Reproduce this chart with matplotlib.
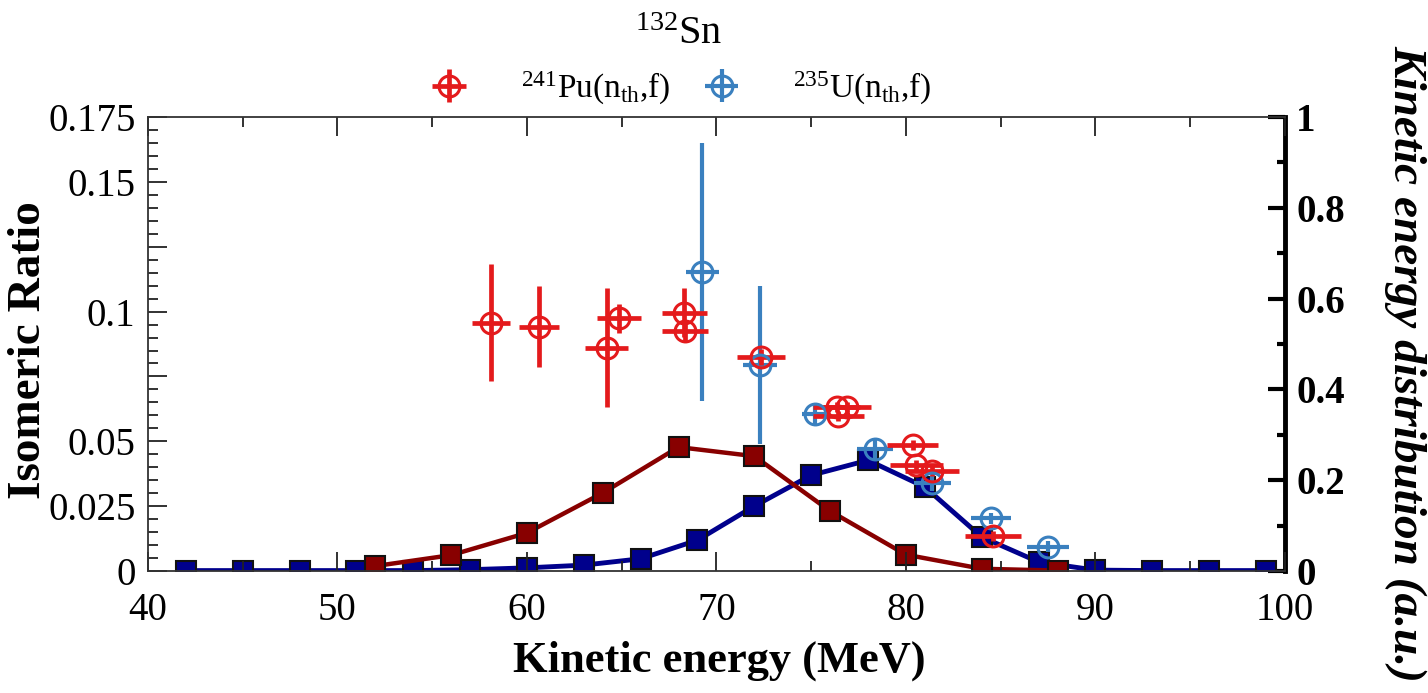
import matplotlib
matplotlib.use('Agg')
import matplotlib.pyplot as plt
from matplotlib.ticker import FixedLocator, FixedFormatter, MultipleLocator

plt.rcParams['font.family'] = ['Liberation Serif', 'DejaVu Serif']
plt.rcParams['mathtext.fontset'] = 'custom'
plt.rcParams['mathtext.rm'] = 'Liberation Serif'
plt.rcParams['mathtext.it'] = 'Liberation Serif:italic'
plt.rcParams['mathtext.bf'] = 'Liberation Serif:bold'

# ---- kinetic energy distributions (right axis) ----
u_dist_x = [42, 45, 48, 51, 54, 57, 60, 63, 66, 69, 72, 75, 78, 81, 84, 87, 90, 93, 96, 99]
u_dist_y = [0.001, 0.001, 0.001, 0.001, 0.001, 0.003, 0.007, 0.013, 0.027, 0.068,
            0.143, 0.211, 0.244, 0.185, 0.075, 0.020, 0.002, 0.001, 0.001, 0.001]
pu_dist_x = [52, 56, 60, 64, 68, 72, 76, 80, 84, 88]
pu_dist_y = [0.011, 0.035, 0.084, 0.172, 0.273, 0.253, 0.132, 0.036, 0.005, 0.001]

# ---- isomeric ratios (left axis) ----
pu_x = [58.1, 60.65, 64.2, 64.85, 68.3, 68.35, 72.35, 76.34, 76.91, 76.43, 80.35, 80.55, 81.37, 84.6]
pu_y = [0.0957, 0.0942, 0.0861, 0.0974, 0.0996, 0.0926, 0.0824, 0.0633, 0.0633, 0.0598,
        0.0486, 0.0409, 0.0387, 0.0136]
pu_xerr = [1.0, 1.05, 1.15, 1.15, 1.19, 1.2, 1.26, 1.23, 1.27, 1.35, 1.35, 1.4, 1.43, 1.48]
pu_yerr = [0.0226, 0.0157, 0.023, 0.0057, 0.0094, 0.0042, 0.003, 0.002, 0.002, 0.002,
           0.002, 0.002, 0.002, 0.002]

u_x = [69.25, 72.3, 75.2, 78.37, 81.4, 84.49, 87.5]
u_y = [0.1154, 0.0794, 0.0604, 0.0469, 0.0338, 0.0203, 0.0094]
u_xerr = [0.87, 0.88, 0.7, 0.97, 1.0, 1.03, 1.1]
u_yerr = [0.0497, 0.0305, 0.004, 0.004, 0.003, 0.002, 0.002]

left_ticks = [0, 0.025, 0.05, 0.075, 0.1, 0.125, 0.15, 0.175]
left_labels = ['0', '0.025', '0.05', '', '0.1', '', '0.15', '0.175']
right_ticks = [0, 0.2, 0.4, 0.6, 0.8, 1.0]
right_labels = ['0', '0.2', '0.4', '0.6', '0.8', '1']

RED = '#e41a1c'
BLUE = '#3a80bf'
DRED = '#880000'
DBLUE = '#00008c'

fig = plt.figure(figsize=(14.28, 6.93), dpi=100)
ax = fig.add_axes([0.1036, 0.176, 0.7962, 0.6551])
ax2 = ax.twinx()
ax.set_zorder(ax2.get_zorder() + 1)
ax.patch.set_visible(False)

# distributions on the right axis
ax2.plot(u_dist_x, u_dist_y, '-s', color=DBLUE, lw=3.5, ms=15, mfc=DBLUE,
         mec='#111111', mew=1.5)
ax2.plot(pu_dist_x, pu_dist_y, '-s', color=DRED, lw=3.2, ms=15, mfc=DRED,
         mec='#111111', mew=1.5)
ax2.set_ylim(0, 1)
ax2.yaxis.set_major_locator(FixedLocator(right_ticks))
ax2.yaxis.set_major_formatter(FixedFormatter(right_labels))
ax2.yaxis.set_minor_locator(MultipleLocator(0.1))
ax2.tick_params(axis='y', which='both', direction='in', right=True, left=False,
                width=3, labelsize=28, pad=8)
ax2.tick_params(axis='y', which='major', length=12)
ax2.tick_params(axis='y', which='minor', length=6)
for lab in ax2.get_yticklabels():
    lab.set_fontweight('bold')
for s in ['left', 'top', 'bottom']:
    ax2.spines[s].set_visible(False)
ax2.spines['right'].set_linewidth(3.5)

# isomeric ratios on the left axis
hu = ax.errorbar(u_x, u_y, xerr=u_xerr, yerr=u_yerr, fmt='o', mfc='none', mec=BLUE,
                 mew=2.2, ms=15, ecolor=BLUE, elinewidth=3.0, capsize=0,
                 label=r'$^{235}$U(n$_{\mathrm{th}}$,f)')
hp = ax.errorbar(pu_x, pu_y, xerr=pu_xerr, yerr=pu_yerr, fmt='o', mfc='none', mec=RED,
                 mew=2.2, ms=15, ecolor=RED, elinewidth=3.4, capsize=0,
                 label=r'$^{241}$Pu(n$_{\mathrm{th}}$,f)')

ax.set_xlim(40, 100)
ax.set_ylim(0, 0.175)
ax.xaxis.set_major_locator(MultipleLocator(10))
ax.xaxis.set_minor_locator(MultipleLocator(5))
ax.yaxis.set_major_locator(FixedLocator(left_ticks))
ax.yaxis.set_major_formatter(FixedFormatter(left_labels))
ax.yaxis.set_minor_locator(MultipleLocator(0.005))
ax.tick_params(which='both', direction='in', top=True, right=False, left=True,
               bottom=True, width=1.3, color='#222222', labelsize=28)
ax.tick_params(which='major', length=14)
ax.tick_params(which='minor', length=7)
ax.tick_params(axis='x', pad=15)
ax.tick_params(axis='y', pad=9)
ax.spines['right'].set_visible(False)
for s in ['left', 'top', 'bottom']:
    ax.spines[s].set_linewidth(1.3)
    ax.spines[s].set_color('#333333')

# texts
fig.text(0.020, 0.495, 'Isomeric Ratio', rotation=90, ha='center', va='center',
         fontsize=34, fontweight='bold')
fig.text(0.984, 0.475, 'Kinetic energy distribution (a.u.)', rotation=270,
         ha='center', va='center', fontsize=34, fontweight='bold', fontstyle='italic')
fig.text(0.504, 0.046, 'Kinetic energy (MeV)', ha='center', va='center',
         fontsize=32, fontweight='bold')
fig.text(0.475, 0.95, r'$^{132}$Sn', ha='center', va='center', fontsize=29)

fig.legend([hp, hu], [hp.get_label(), hu.get_label()], loc='center',
           bbox_to_anchor=(0.477, 0.873), ncol=2, frameon=False, fontsize=24,
           handlelength=1.1, handletextpad=1.6, columnspacing=1.0,
           borderaxespad=0, borderpad=0)

fig.savefig('out.png', dpi=100)
